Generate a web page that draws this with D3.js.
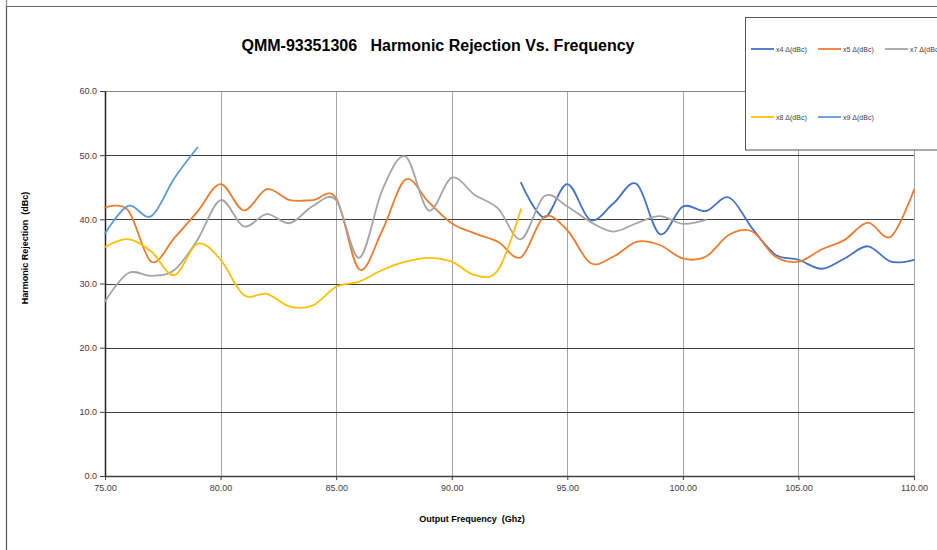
<!DOCTYPE html>
<html>
<head>
<meta charset="utf-8">
<script src="https://cdn.jsdelivr.net/npm/d3@7/dist/d3.min.js"></script>
<style>
  html, body { margin: 0; padding: 0; background: #fff; }
  svg { display: block; font-family: "Liberation Sans", Arial, sans-serif; }
</style>
</head>
<body>
<svg id="chart" width="937" height="550"></svg>
<script>
// ---- data ----
const freqX4 = [93,94,95,96,97,98,99,100,101,102,103,104,105,106,107,108,109,110];
const x4 = [45.7,40.3,45.5,39.9,42.5,45.5,37.7,42.0,41.3,43.4,38.6,34.5,33.7,32.3,33.9,35.8,33.4,33.7];

const freqX5 = [75,76,77,78,79,80,81,82,83,84,85,86,87,88,89,90,91,92,93,94,95,96,97,98,99,100,101,102,103,104,105,106,107,108,109,110];
const x5 = [41.8,41.4,33.4,37.1,41.2,45.5,41.4,44.7,43.0,43.0,43.3,32.2,38.3,46.2,42.7,39.4,37.8,36.5,34.1,40.4,38.3,33.2,34.2,36.5,36.0,33.9,34.2,37.6,38.1,34.2,33.4,35.3,36.8,39.5,37.3,44.6];

const freqX7 = [75,76,77,78,79,80,81,82,83,84,85,86,87,88,89,90,91,92,93,94,95,96,97,98,99,100,101];
const x7 = [27.2,31.6,31.2,32.1,36.8,43.0,38.9,40.8,39.4,42.1,43.0,34.0,44.6,49.8,41.4,46.5,43.8,41.7,36.9,43.6,42.0,39.6,38.1,39.4,40.5,39.3,39.9];

const freqX8 = [75,76,77,78,79,80,81,82,83,84,85,86,87,88,89,90,91,92,93];
const x8 = [35.7,36.9,35.0,31.3,36.2,33.7,28.2,28.4,26.4,26.6,29.5,30.3,32.1,33.4,34.0,33.4,31.3,32.1,41.6];

const freqX9 = [75,76,77,78,79];
const x9 = [37.8,42.1,40.5,46.4,51.2];

const seriesNames = ["x4 Δ(dBc)", "x5 Δ(dBc)", "x7 Δ(dBc)", "x8 Δ(dBc)", "x9 Δ(dBc)"];
const xTicks = [75,80,85,90,95,100,105,110];
const yTicks = [0,10,20,30,40,50,60];
const titleText = "QMM-93351306   Harmonic Rejection Vs. Frequency";
const xTitle = "Output Frequency  (Ghz)";
const yTitle = "Harmonic Rejection  (dBc)";

// ---- layout ----
const colors = ["#4472C4", "#ED7D31", "#A5A5A5", "#FFC000", "#5B9BD5"];
const series = [
  {name: seriesNames[0], f: freqX4, v: x4, color: colors[0]},
  {name: seriesNames[1], f: freqX5, v: x5, color: colors[1]},
  {name: seriesNames[2], f: freqX7, v: x7, color: colors[2]},
  {name: seriesNames[3], f: freqX8, v: x8, color: colors[3]},
  {name: seriesNames[4], f: freqX9, v: x9, color: colors[4]},
];

const svg = d3.select("#chart");
const L = 105, R = 914, T = 91, B = 476;
const x = d3.scaleLinear().domain([75,110]).range([L,R]);
const y = d3.scaleLinear().domain([0,60]).range([B,T]);

// outer chart border
svg.append("line").attr("x1",6.5).attr("x2",6.5).attr("y1",6).attr("y2",550).attr("stroke","#555").attr("stroke-width",1.2);
svg.append("line").attr("x1",6).attr("x2",937).attr("y1",6.5).attr("y2",6.5).attr("stroke","#666").attr("stroke-width",1);
svg.append("line").attr("x1",6.5).attr("x2",6.5).attr("y1",0).attr("y2",6).attr("stroke","#999").attr("stroke-width",1.5);

// vertical gridlines
svg.append("g").selectAll("line").data(xTicks.slice(1)).join("line")
  .attr("x1",d=>Math.round(x(d))+0.5).attr("x2",d=>Math.round(x(d))+0.5)
  .attr("y1",T).attr("y2",B).attr("stroke","#A6A6A6").attr("stroke-width",1);
// horizontal gridlines
svg.append("g").selectAll("line").data(yTicks.slice(1)).join("line")
  .attr("x1",L).attr("x2",R)
  .attr("y1",d=>Math.round(y(d))+0.5).attr("y2",d=>Math.round(y(d))+0.5)
  .attr("stroke",d=>d===60?"#888":"#404040").attr("stroke-width",1);

// axes
const xAxis = d3.axisBottom(x).tickValues(xTicks).tickFormat(d3.format(".2f")).tickSize(4).tickSizeOuter(0);
const gx = svg.append("g").attr("transform",`translate(0,${B})`).call(xAxis);
gx.select(".domain").attr("stroke","#404040").attr("stroke-width",1.3);
gx.selectAll(".tick line").attr("stroke","#404040");
gx.selectAll(".tick text").attr("font-size",9).attr("fill","#404040").attr("dy","0.9em")
  .attr("font-family","'Liberation Sans', Arial, sans-serif");

const yAxis = d3.axisLeft(y).tickValues(yTicks).tickFormat(d3.format(".1f")).tickSize(5).tickSizeOuter(0);
const gy = svg.append("g").attr("transform",`translate(${L},0)`).call(yAxis);
gy.select(".domain").attr("stroke","#222").attr("stroke-width",1.5);
gy.selectAll(".tick line").attr("stroke","#404040");
gy.selectAll(".tick text").attr("font-size",9).attr("fill","#404040").attr("x",-8)
  .attr("font-family","'Liberation Sans', Arial, sans-serif");

// lines
const line = d3.line().x(d=>x(d[0])).y(d=>y(d[1])).curve(d3.curveCardinal.tension(0));
svg.append("g").selectAll("path").data(series).join("path")
  .attr("d", s => line(s.f.map((f,i)=>[f, s.v[i]])))
  .attr("fill","none").attr("stroke",s=>s.color).attr("stroke-width",1.8)
  .attr("stroke-linecap","round").attr("stroke-linejoin","round");

// title
svg.append("text").attr("x",438).attr("y",51).attr("text-anchor","middle")
  .attr("font-size",16).attr("font-weight","bold").attr("fill","#000")
  .style("white-space","pre").text(titleText);

// axis titles
svg.append("text").attr("x",472).attr("y",522).attr("text-anchor","middle")
  .attr("font-size",9).attr("font-weight","bold").attr("fill","#000")
  .style("white-space","pre").text(xTitle);
svg.append("text").attr("transform","translate(28,248) rotate(-90)").attr("text-anchor","middle")
  .attr("font-size",9).attr("font-weight","bold").attr("fill","#000")
  .style("white-space","pre").text(yTitle);

// legend
svg.append("rect").attr("x",745.5).attr("y",17.5).attr("width",200).attr("height",132.5)
  .attr("fill","#fff").attr("stroke","#555").attr("stroke-width",1);
const legPos = [[751,49],[818,49],[885,49],[751,117],[818,117]];
const lg = svg.append("g").selectAll("g").data(series).join("g")
  .attr("transform",(d,i)=>`translate(${legPos[i][0]},${legPos[i][1]})`);
lg.append("line").attr("x1",0).attr("x2",23).attr("y1",0).attr("y2",0)
  .attr("stroke",d=>d.color).attr("stroke-width",1.8);
lg.append("text").attr("x",25).attr("y",2.5).attr("font-size",7).attr("fill","#404040")
  .text(d=>d.name);
</script>
</body>
</html>
